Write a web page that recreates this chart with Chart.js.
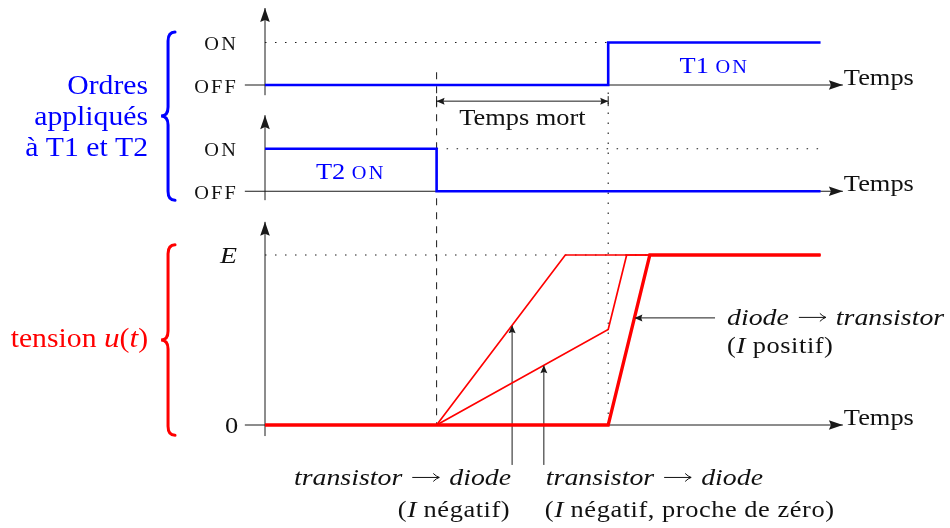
<!DOCTYPE html>
<html>
<head>
<meta charset="utf-8">
<script src="https://cdn.jsdelivr.net/npm/chart.js@4.4.1/dist/chart.umd.min.js"></script>
<style>
html, body { margin: 0; padding: 0; background: #fff; }
#wrap { width: 950px; height: 528px; position: relative; }
</style>
</head>
<body>
<div id="wrap"><canvas id="chart"></canvas></div>
<script>
// time: 0 = origin of the three plots, T2 gets OFF at 4, T1 gets ON at 8
const T_END = 12.95;
const AXIS_END = 13.47;

// vertical levels, one y scale for the three stacked plots
const LEVEL_T1 = 8;     // OFF of T1, ON is +1
const LEVEL_T2 = 5.5;   // OFF of T2, ON is +1
const E = 4;

// orders applied to T1 and T2 (0 = OFF, 1 = ON)
const t1Time = [0, 8, 8, T_END];
const t1State = [0, 0, 1, 1];
const t2Time = [0, 4, 4, T_END];
const t2State = [1, 1, 0, 0];

// voltage u(t)
const uNegTime = [4, 7, T_END];            // transistor -> diode, I negatif
const uNegVal = [0, 4, 4];
const uZeroTime = [4, 8, 8.43, T_END];     // I negatif, proche de zero
const uZeroVal = [0, 2.25, 4, 4];
const uPosTime = [0, 8, 8.97, T_END];      // diode -> transistor, I positif
const uPosVal = [0, 0, 4, 4];

// where the comment arrows touch the curves
const noteNegX = 5.76;
const noteZeroX = 6.5;
const notePosY = 2.52;
const noteTailY = -0.94;
const notePosTailX = 10.49;
const deadTimeY = 7.62;

const FONT = '"Liberation Serif", "Times New Roman", serif';
const BLUE = '#0000ff';
const RED = '#ff0000';

function interp(xs, ys, x) {
    for (let i = 0; i < xs.length - 1; i++) {
        if (x >= xs[i] && x <= xs[i + 1] && xs[i + 1] > xs[i]) {
            return ys[i] + (ys[i + 1] - ys[i]) * (x - xs[i]) / (xs[i + 1] - xs[i]);
        }
    }
    return ys[ys.length - 1];
}
function invert(xs, ys, y) {
    for (let i = 0; i < xs.length - 1; i++) {
        if (ys[i + 1] !== ys[i] && y >= Math.min(ys[i], ys[i + 1]) && y <= Math.max(ys[i], ys[i + 1])) {
            return xs[i] + (xs[i + 1] - xs[i]) * (y - ys[i]) / (ys[i + 1] - ys[i]);
        }
    }
    return xs[0];
}

const zip = (xs, ys, f) => xs.map((x, i) => ({ x: x, y: f ? f(ys[i]) : ys[i] }));
const seg = (x1, y1, x2, y2) => [{ x: x1, y: y1 }, { x: x2, y: y2 }];
const line = (pts, color, width, dash, extra) => Object.assign({
    data: pts, showLine: true, borderColor: color, borderWidth: width,
    borderDash: dash || [], pointRadius: 0, pointHoverRadius: 0,
    fill: false, tension: 0
}, extra || {});

const DOT = [1.5, 8.5];
const DASH = [7, 7];
const INK = '#1a1a1a';

const datasets = [
    // signals (drawn on top)
    line(zip(t1Time, t1State, s => LEVEL_T1 + s), BLUE, 2.6),
    line(zip(t2Time, t2State, s => LEVEL_T2 + s), BLUE, 2.6),
    line(zip(uPosTime, uPosVal), RED, 3.3),
    line(zip(uNegTime, uNegVal), RED, 1.7),
    line(zip(uZeroTime, uZeroVal), RED, 1.7),
    // comment arrows
    line(seg(noteNegX, noteTailY, noteNegX, interp(uNegTime, uNegVal, noteNegX)), INK, 1, [], { arrow: 'end', head: [8, 3.5] }),
    line(seg(noteZeroX, noteTailY, noteZeroX, interp(uZeroTime, uZeroVal, noteZeroX)), INK, 1, [], { arrow: 'end', head: [8, 3.5] }),
    line(seg(notePosTailX, notePosY, invert(uPosTime, uPosVal, notePosY), notePosY), INK, 1, [], { arrow: 'end', head: [8, 3.5] }),
    line(seg(4, deadTimeY, 8, deadTimeY), INK, 1, [], { arrow: 'both', head: [8, 3.5], bars: true }),
    // guides
    line(seg(4, 8.3, 4, 0), INK, 1, DASH),
    line(seg(8, LEVEL_T1 + 1, 8, 0), INK, 1.1, DOT),
    line(seg(0, LEVEL_T1 + 1, T_END, LEVEL_T1 + 1), INK, 1.1, DOT),
    line(seg(4, LEVEL_T2 + 1, T_END, LEVEL_T2 + 1), INK, 1.1, DOT),
    line(seg(0, E, T_END, E), INK, 1.1, DOT),
    // axes
    line(seg(-0.47, LEVEL_T1, AXIS_END, LEVEL_T1), INK, 1, [], { arrow: 'end', head: [14, 4.8] }),
    line(seg(-0.47, LEVEL_T2, AXIS_END, LEVEL_T2), INK, 1, [], { arrow: 'end', head: [14, 4.8] }),
    line(seg(-0.47, 0, AXIS_END, 0), INK, 1, [], { arrow: 'end', head: [14, 4.8] }),
    line(seg(0, 7.76, 0, 9.81), INK, 1, [], { arrow: 'end', head: [14, 4.8] }),
    line(seg(0, 5.29, 0, 7.29), INK, 1, [], { arrow: 'end', head: [14, 4.8] }),
    line(seg(0, -0.26, 0, 4.78), INK, 1, [], { arrow: 'end', head: [14, 4.8] })
];

function head(ctx, x1, y1, x2, y2, len, half) {
    const a = Math.atan2(y2 - y1, x2 - x1);
    const c = Math.cos(a), s = Math.sin(a);
    const bx = x2 - len * c, by = y2 - len * s;
    ctx.beginPath();
    ctx.moveTo(x2, y2);
    ctx.lineTo(bx - half * s, by + half * c);
    ctx.lineTo(x2 - len * 0.85 * c, y2 - len * 0.85 * s);
    ctx.lineTo(bx + half * s, by - half * c);
    ctx.closePath();
    ctx.fill();
}

// text parts: {t, it, size, sx, ls} or {arrow: length, gap}
const UP_SX = 1.1, IT_SX = 1.16;
function setFont(ctx, p) {
    ctx.font = (p.it ? 'italic ' : '') + p.size + 'px ' + FONT;
}
function partWidth(ctx, p) {
    if (p.arrow) return p.arrow + 2 * p.gap;
    setFont(ctx, p);
    const sx = p.sx || (p.it ? IT_SX : UP_SX);
    return (ctx.measureText(p.t).width + (p.ls || 0) * p.t.length) * sx;
}
function runs(ctx, parts, x, y, align, color) {
    let w = 0;
    parts.forEach(p => { w += partWidth(ctx, p); });
    let cx = align === 'right' ? x - w : align === 'center' ? x - w / 2 : x;
    ctx.fillStyle = color;
    ctx.strokeStyle = color;
    ctx.textAlign = 'left';
    ctx.textBaseline = 'alphabetic';
    parts.forEach(p => {
        const pw = partWidth(ctx, p);
        if (p.arrow) {
            const ay = y - 7.5, x0 = cx + p.gap, x1 = cx + p.gap + p.arrow;
            ctx.lineWidth = 1;
            ctx.beginPath();
            ctx.moveTo(x0, ay);
            ctx.lineTo(x1, ay);
            ctx.moveTo(x1 - 6, ay - 4);
            ctx.quadraticCurveTo(x1 - 3, ay - 1, x1, ay);
            ctx.quadraticCurveTo(x1 - 3, ay + 1, x1 - 6, ay + 4);
            ctx.stroke();
        } else {
            setFont(ctx, p);
            const sx = p.sx || (p.it ? IT_SX : UP_SX);
            ctx.save();
            ctx.translate(cx, y);
            ctx.scale(sx, 1);
            if (p.ls) {
                let ox = 0;
                for (const ch of p.t) {
                    ctx.fillText(ch, ox, 0);
                    ox += ctx.measureText(ch).width + p.ls;
                }
            } else {
                ctx.fillText(p.t, 0, 0);
            }
            ctx.restore();
        }
        cx += pw;
    });
}

function brace(ctx, x, top, mid, bottom, color) {
    const r = 9, w = 7;
    ctx.save();
    ctx.strokeStyle = color;
    ctx.lineWidth = 3;
    ctx.lineCap = 'round';
    ctx.beginPath();
    ctx.moveTo(x + w, top);
    ctx.quadraticCurveTo(x, top, x, top + r);
    ctx.lineTo(x, mid - r);
    ctx.quadraticCurveTo(x, mid, x - w, mid);
    ctx.quadraticCurveTo(x, mid, x, mid + r);
    ctx.lineTo(x, bottom - r);
    ctx.quadraticCurveTo(x, bottom, x + w, bottom);
    ctx.stroke();
    ctx.restore();
}

const decorations = {
    id: 'decorations',
    afterDatasetsDraw(chart) {
        const ctx = chart.ctx;
        const px = v => chart.scales.x.getPixelForValue(v);
        const py = v => chart.scales.y.getPixelForValue(v);
        ctx.save();
        // arrow heads
        chart.data.datasets.forEach(ds => {
            if (!ds.arrow) return;
            const d = ds.data, n = d.length;
            ctx.fillStyle = ds.borderColor;
            head(ctx, px(d[n - 2].x), py(d[n - 2].y), px(d[n - 1].x), py(d[n - 1].y), ds.head[0], ds.head[1]);
            if (ds.arrow === 'both') {
                head(ctx, px(d[1].x), py(d[1].y), px(d[0].x), py(d[0].y), ds.head[0], ds.head[1]);
            }
            if (ds.bars) {
                ctx.strokeStyle = ds.borderColor;
                ctx.lineWidth = 1;
                [d[0], d[n - 1]].forEach(p => {
                    ctx.beginPath();
                    ctx.moveTo(px(p.x), py(p.y) - 5);
                    ctx.lineTo(px(p.x), py(p.y) + 5);
                    ctx.stroke();
                });
            }
        });

        const S = 24, SC = 18.5, L = 27;
        const K = '#111';
        const sc = t => ({ t: t, size: SC, ls: 2 });
        const up = (t, size) => ({ t: t, size: size || S });
        const upw = t => ({ t: t, size: S, ls: 0.5 });
        const it = (t, size) => ({ t: t, size: size || S, it: true });
        const arrow = { arrow: 27, gap: 10 };

        // level labels
        const lx = px(-0.65);
        [[LEVEL_T1 + 1, 'ON'], [LEVEL_T1, 'OFF'], [LEVEL_T2 + 1, 'ON'], [LEVEL_T2, 'OFF']].forEach(l => {
            runs(ctx, [sc(l[1])], lx + 1, py(l[0]) + 7.5, 'right', K);
        });
        [LEVEL_T1, LEVEL_T2, 0].forEach(v => {
            runs(ctx, [up('Temps')], px(AXIS_END) + 1, py(v), 'left', K);
        });
        runs(ctx, [it('E')], lx, py(E) + 8, 'right', K);
        runs(ctx, [up('0')], lx + 1, py(0) + 8, 'right', K);

        runs(ctx, [up('T1 '), sc('ON')], px((8 + T_END) / 2), py(LEVEL_T1 + 0.5) + 9, 'center', BLUE);
        runs(ctx, [up('T2 '), sc('ON')], px(2), py(LEVEL_T2 + 0.5) + 9, 'center', BLUE);
        runs(ctx, [up('Temps mort')], px(6), py(deadTimeY) + 24, 'center', K);

        // left captions and braces
        const bx = px(-2.26);
        brace(ctx, bx, py(9.25), py(7.27), py(5.29), BLUE);
        brace(ctx, bx, py(4.24), py(2), py(-0.24), RED);
        const cx = bx - 20;
        const m1 = py(7.27);
        runs(ctx, [up('Ordres', L)], cx, m1 - 22, 'right', BLUE);
        runs(ctx, [up('appliqués', L)], cx, m1 + 9, 'right', BLUE);
        runs(ctx, [up('à T1 et T2', L)], cx, m1 + 40, 'right', BLUE);
        runs(ctx, [up('tension ', L), it('u', L), up('(', L), it('t', L), up(')', L)], cx, py(2) + 7, 'right', RED);

        // comments on the curves
        const ny = py(notePosY);
        const nx = px(notePosTailX) + 12;
        runs(ctx, [it('diode'), arrow, it('transistor')], nx, ny + 7, 'left', K);
        runs(ctx, [upw('('), it('I'), upw(' positif)')], nx, ny + 35, 'left', K);

        const by = py(noteTailY);
        runs(ctx, [it('transistor'), arrow, it('diode')], px(noteNegX) - 1, by + 20, 'right', K);
        runs(ctx, [upw('('), it('I'), upw(' négatif)')], px(noteNegX) - 2, by + 52, 'right', K);
        runs(ctx, [it('transistor'), arrow, it('diode')], px(noteZeroX) + 2, by + 20, 'left', K);
        runs(ctx, [upw('('), it('I'), upw(' négatif, proche de zéro)')], px(noteZeroX) + 1, by + 52, 'left', K);
        ctx.restore();
    }
};

new Chart(document.getElementById('chart'), {
    type: 'scatter',
    data: { datasets: datasets },
    options: {
        responsive: true,
        maintainAspectRatio: false,
        animation: false,
        events: [],
        layout: { padding: 0 },
        plugins: { legend: { display: false }, tooltip: { enabled: false } },
        scales: {
            x: { type: 'linear', display: false, min: -265 / 42.9, max: 685 / 42.9 },
            y: { type: 'linear', display: false, min: -103 / 42.5, max: 10 }
        }
    },
    plugins: [decorations]
});
</script>
</body>
</html>
